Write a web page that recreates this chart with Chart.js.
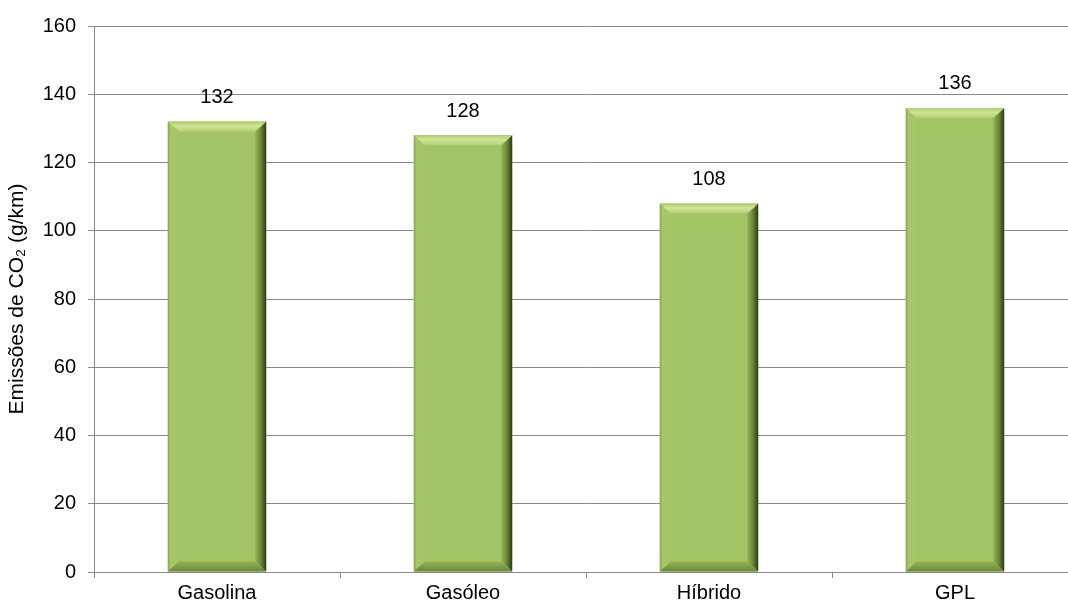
<!DOCTYPE html>
<html><head><meta charset="utf-8">
<script src="https://cdn.jsdelivr.net/npm/chart.js@4"></script>
<style>html,body{margin:0;padding:0;background:#fff;overflow:hidden}#w{width:1080px;height:608px}</style>
</head><body><div id="w"><canvas id="c"></canvas></div>
<script>
const categories = ["Gasolina", "Gasóleo", "Híbrido", "GPL"];
const values = [132, 128, 108, 136];
const yTitle = "Emissões de CO₂ (g/km)";
const FONT = '"Liberation Sans", Arial, sans-serif';

const bevel = {
  id: 'bevel',
  afterDatasetsDraw(chart) {
    const ctx = chart.ctx;
    chart.getDatasetMeta(0).data.forEach((b, i) => {
      const l = b.x - b.width/2, r = b.x + b.width/2, t = b.y, bt = b.base;
      const s = 11, st = 10;
      ctx.save();
      // left
      let g = ctx.createLinearGradient(l, 0, l+s, 0);
      g.addColorStop(0, '#86a44c'); g.addColorStop(0.25, '#a8c66a'); g.addColorStop(1, '#a4c465');
      ctx.fillStyle = g;
      ctx.beginPath(); ctx.moveTo(l, t); ctx.lineTo(l+s, t+st); ctx.lineTo(l+s, bt-st); ctx.lineTo(l, bt); ctx.closePath(); ctx.fill();
      // right
      g = ctx.createLinearGradient(r-s, 0, r, 0);
      g.addColorStop(0, '#96b558'); g.addColorStop(0.5, '#6c8838'); g.addColorStop(1, '#2c3a16');
      ctx.fillStyle = g;
      ctx.beginPath(); ctx.moveTo(r, t); ctx.lineTo(r-s, t+st); ctx.lineTo(r-s, bt-st); ctx.lineTo(r, bt); ctx.closePath(); ctx.fill();
      // top
      g = ctx.createLinearGradient(0, t, 0, t+st);
      g.addColorStop(0, '#aecb70'); g.addColorStop(0.45, '#cfe696'); g.addColorStop(1, '#b3ce76');
      ctx.fillStyle = g;
      ctx.beginPath(); ctx.moveTo(l, t); ctx.lineTo(r, t); ctx.lineTo(r-s, t+st); ctx.lineTo(l+s, t+st); ctx.closePath(); ctx.fill();
      // bottom
      g = ctx.createLinearGradient(0, bt-st, 0, bt);
      g.addColorStop(0, '#95b358'); g.addColorStop(1, '#6a863a');
      ctx.fillStyle = g;
      ctx.beginPath(); ctx.moveTo(l, bt); ctx.lineTo(l+s, bt-st); ctx.lineTo(r-s, bt-st); ctx.lineTo(r, bt); ctx.closePath(); ctx.fill();
      // label
      ctx.fillStyle = '#000'; ctx.font = '20px ' + FONT;
      ctx.textAlign = 'center'; ctx.textBaseline = 'middle';
      ctx.fillText(String(values[i]), b.x, t - 24);
      ctx.restore();
    });
  }
};

new Chart(document.getElementById('c'), {
  type: 'bar',
  data: { labels: categories, datasets: [{ data: values, backgroundColor: '#a3c464', borderWidth: 0, barPercentage: 0.4, categoryPercentage: 1 }] },
  options: {
    responsive: true, maintainAspectRatio: false, animation: false,
    layout: { padding: { top: 26, right: 2, left: 5, bottom: 0 } },
    plugins: { legend: { display: false }, tooltip: { enabled: false } },
    scales: {
      x: {
        afterFit(s) { s.height = 36; },
        grid: { offset: true, drawOnChartArea: false, drawTicks: true, tickLength: 6, color: '#888' },
        border: { color: '#888', width: 1 },
        ticks: { color: '#000', font: { family: FONT, size: 20 }, padding: 3 }
      },
      y: {
        min: 0, max: 160,
        afterFit(s) { s.width = 89; },
        grid: { color: '#888', tickLength: 6 },
        border: { color: '#888', width: 1 },
        ticks: { stepSize: 20, color: '#000', font: { family: FONT, size: 20 }, padding: 12 },
        title: { display: true, text: yTitle, color: '#000', font: { family: FONT, size: 21 }, padding: 0 }
      }
    }
  },
  plugins: [bevel]
});
</script></body></html>
